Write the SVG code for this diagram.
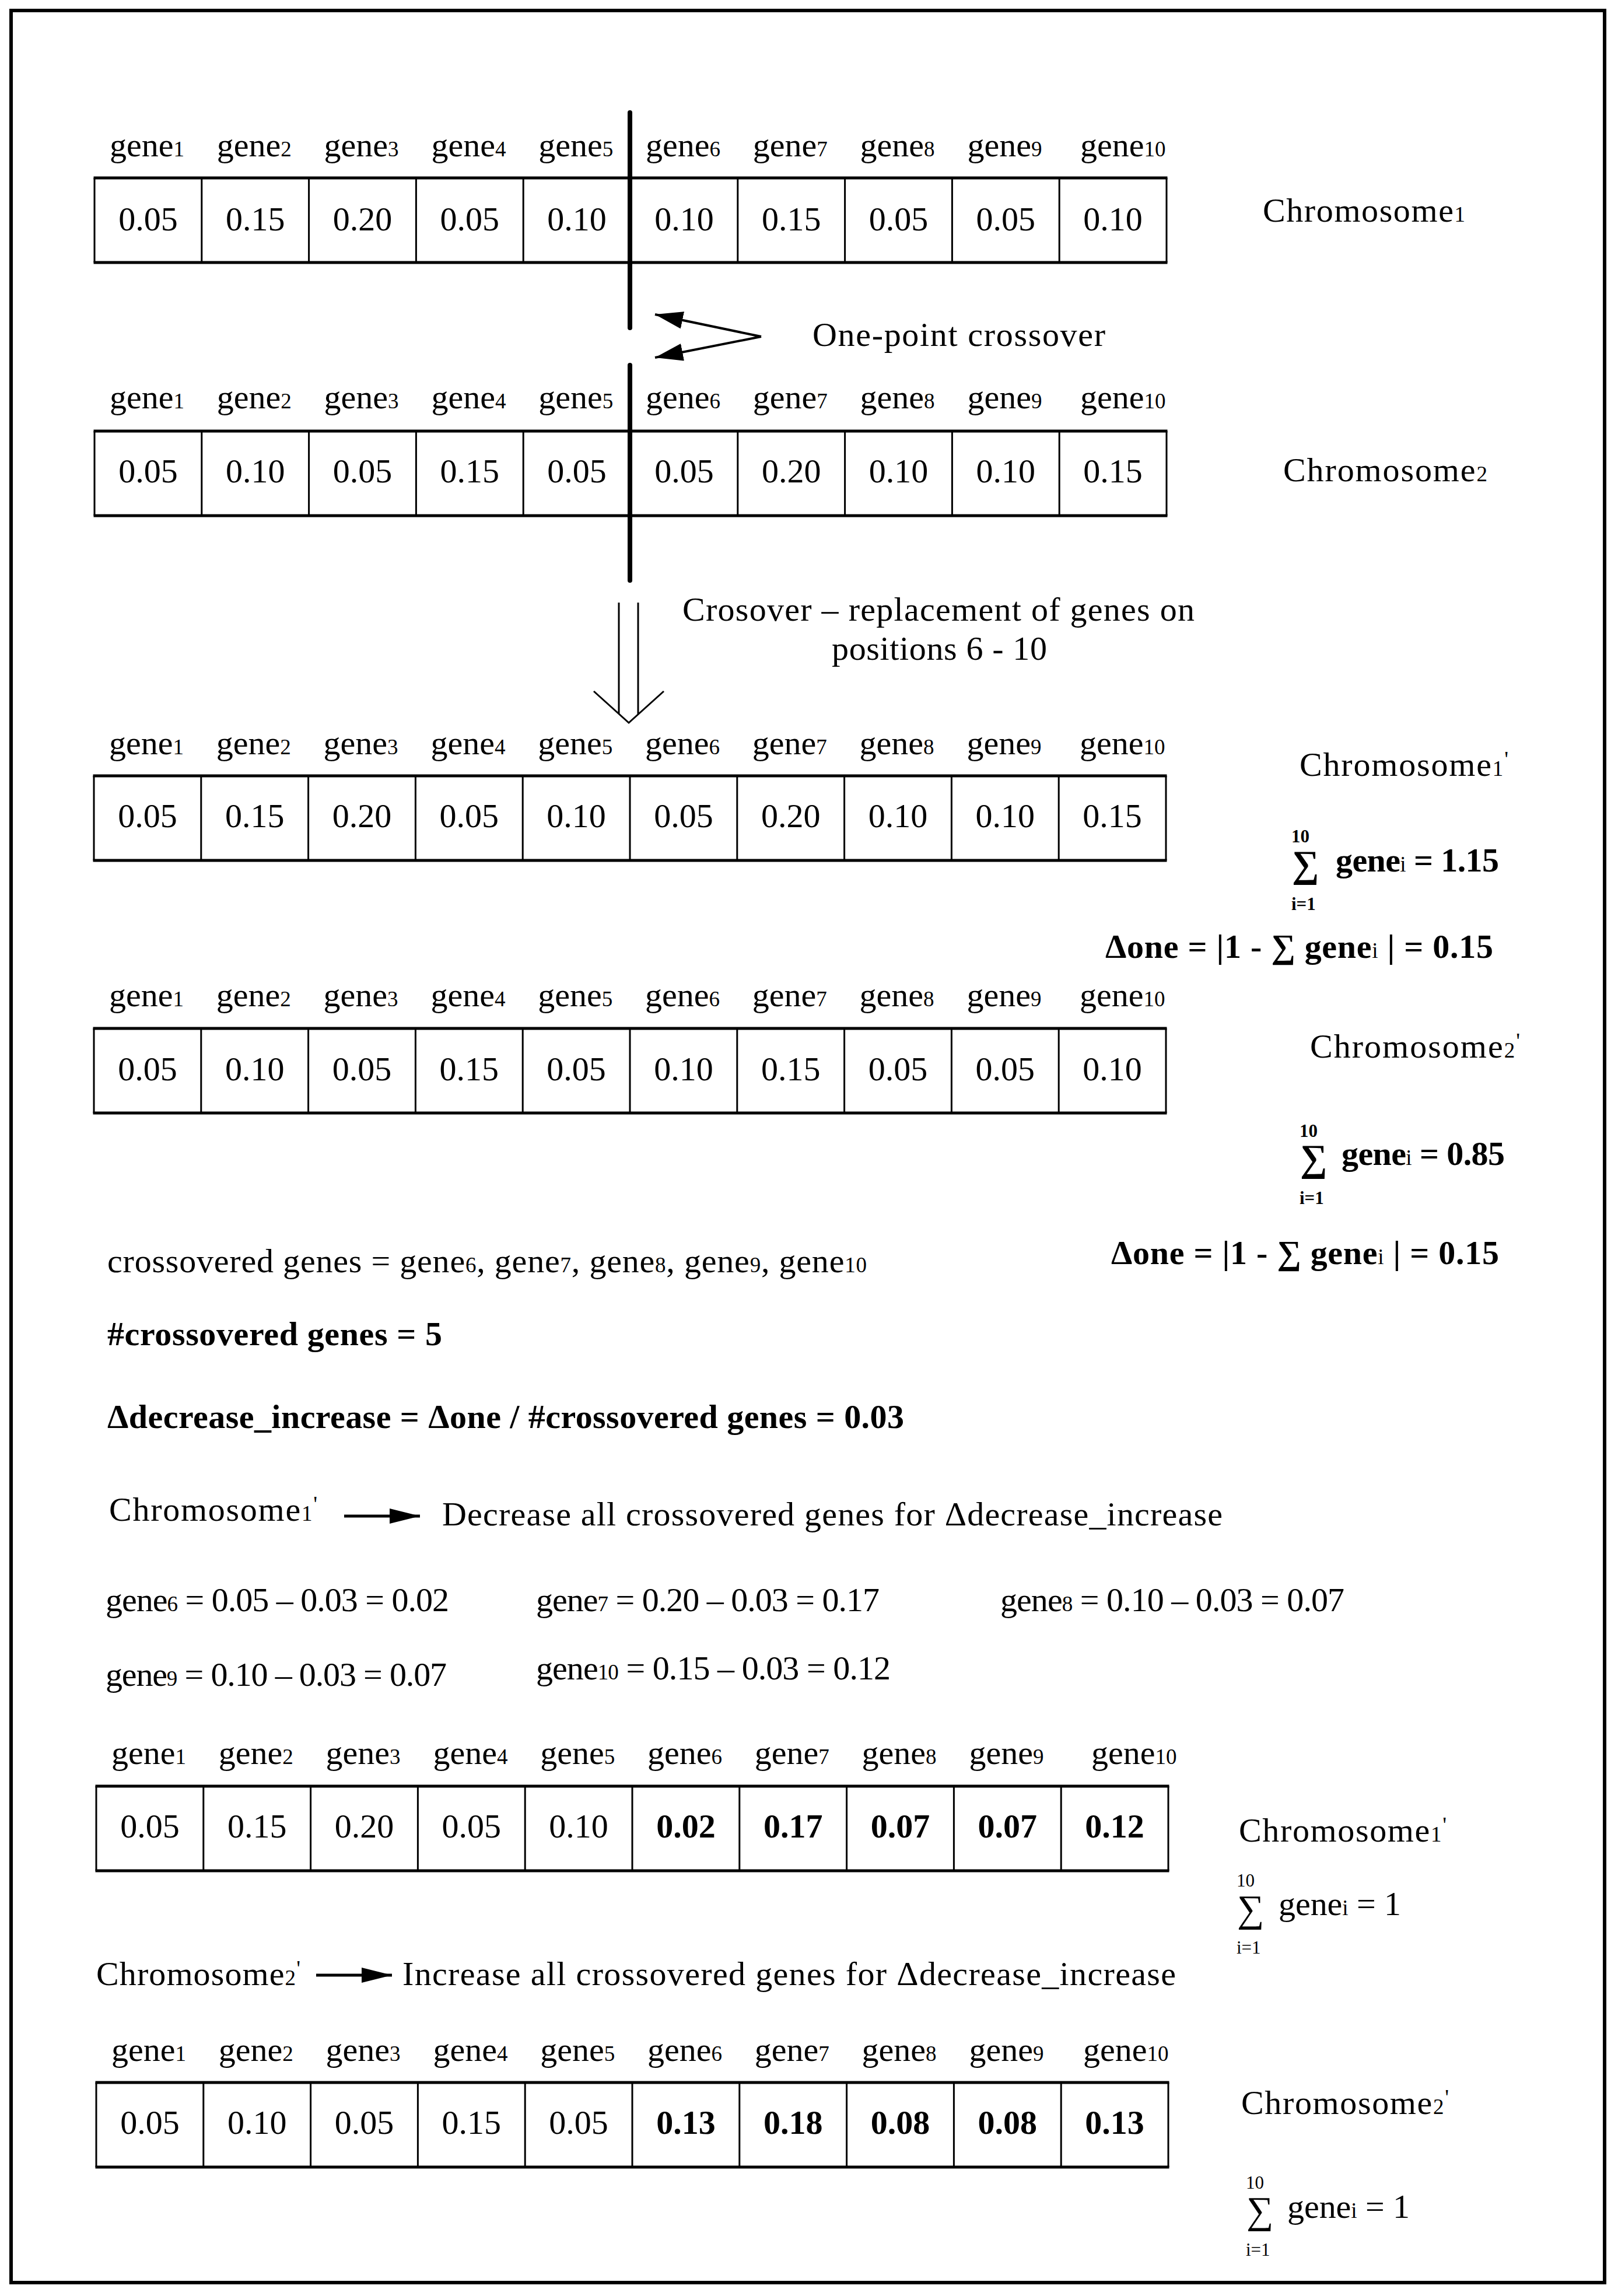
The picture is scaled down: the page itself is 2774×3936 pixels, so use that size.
<svg xmlns="http://www.w3.org/2000/svg" xmlns:xlink="http://www.w3.org/1999/xlink" width="2774" height="3936" viewBox="0 0 2774 3936">
<style>
text{font-family:"Liberation Serif","DejaVu Serif",serif;font-size:58px;fill:#000}
.b{font-weight:bold}
.s{font-size:37px;font-weight:normal}
.sm{font-size:31px}
.sig{font-size:65px}
.v{text-anchor:middle}
.p{font-size:38px}
.ln{stroke:#000;fill:none}
</style>
<defs>
<g id="tblframe">
<path class="ln" stroke-width="5" d="M-1.5,0H1839.5M-1.5,145H1839.5"/>
<path class="ln" stroke-width="3" d="M0,0V145M183.8,0V145M367.6,0V145M551.4,0V145M735.2,0V145M919,0V145M1102.8,0V145M1286.6,0V145M1470.4,0V145M1654.2,0V145M1838,0V145"/>
</g>
<marker id="ahX" markerUnits="userSpaceOnUse" markerWidth="50" markerHeight="32" refX="48" refY="15" orient="auto" viewBox="0 0 50 32">
<path d="M0,0L48,15L0,30z" fill="#000"/>
</marker>
<marker id="ahR" markerUnits="userSpaceOnUse" markerWidth="54" markerHeight="28" refX="52" refY="13" orient="auto" viewBox="0 0 54 28">
<path d="M0,0L52,13L0,26z" fill="#000"/>
</marker>
</defs>
<rect x="0" y="0" width="2774" height="3936" fill="#fff"/>
<rect x="19" y="18" width="2732" height="3895" fill="none" stroke="#000" stroke-width="6"/>

<g id="chromosome1" transform="translate(162,305)">
<use xlink:href="#tblframe"/>
<text x="26" y="-37">gene<tspan class="s">1</tspan></text>
<text x="209.8" y="-37">gene<tspan class="s">2</tspan></text>
<text x="393.6" y="-37">gene<tspan class="s">3</tspan></text>
<text x="577.4" y="-37">gene<tspan class="s">4</tspan></text>
<text x="761.2" y="-37">gene<tspan class="s">5</tspan></text>
<text x="945" y="-37">gene<tspan class="s">6</tspan></text>
<text x="1128.8" y="-37">gene<tspan class="s">7</tspan></text>
<text x="1312.6" y="-37">gene<tspan class="s">8</tspan></text>
<text x="1496.4" y="-37">gene<tspan class="s">9</tspan></text>
<text x="1690" y="-37">gene<tspan class="s">10</tspan></text>
<text class="v" x="91.9" y="90">0.05</text>
<text class="v" x="275.7" y="90">0.15</text>
<text class="v" x="459.5" y="90">0.20</text>
<text class="v" x="643.3" y="90">0.05</text>
<text class="v" x="827.1" y="90">0.10</text>
<text class="v" x="1010.9" y="90">0.10</text>
<text class="v" x="1194.7" y="90">0.15</text>
<text class="v" x="1378.5" y="90">0.05</text>
<text class="v" x="1562.3" y="90">0.05</text>
<text class="v" x="1746.1" y="90">0.10</text>
<text x="2003" y="75" textLength="347" lengthAdjust="spacing">Chromosome<tspan class="s">1</tspan></text>
</g>

<g id="chromosome2" transform="translate(162,739)">
<use xlink:href="#tblframe"/>
<text x="26" y="-39">gene<tspan class="s">1</tspan></text>
<text x="209.8" y="-39">gene<tspan class="s">2</tspan></text>
<text x="393.6" y="-39">gene<tspan class="s">3</tspan></text>
<text x="577.4" y="-39">gene<tspan class="s">4</tspan></text>
<text x="761.2" y="-39">gene<tspan class="s">5</tspan></text>
<text x="945" y="-39">gene<tspan class="s">6</tspan></text>
<text x="1128.8" y="-39">gene<tspan class="s">7</tspan></text>
<text x="1312.6" y="-39">gene<tspan class="s">8</tspan></text>
<text x="1496.4" y="-39">gene<tspan class="s">9</tspan></text>
<text x="1690" y="-39">gene<tspan class="s">10</tspan></text>
<text class="v" x="91.9" y="88">0.05</text>
<text class="v" x="275.7" y="88">0.10</text>
<text class="v" x="459.5" y="88">0.05</text>
<text class="v" x="643.3" y="88">0.15</text>
<text class="v" x="827.1" y="88">0.05</text>
<text class="v" x="1010.9" y="88">0.05</text>
<text class="v" x="1194.7" y="88">0.20</text>
<text class="v" x="1378.5" y="88">0.10</text>
<text class="v" x="1562.3" y="88">0.10</text>
<text class="v" x="1746.1" y="88">0.15</text>
<text x="2038" y="86" textLength="350" lengthAdjust="spacing">Chromosome<tspan class="s">2</tspan></text>
</g>

<g id="crossover-label">
<text x="1393" y="593" textLength="502" lengthAdjust="spacing">One-point crossover</text>
</g>
<g id="replacement-label">
<text x="1170" y="1064" textLength="878" lengthAdjust="spacing">Crosover – replacement of genes on</text>
<text x="1426" y="1131" textLength="369" lengthAdjust="spacing">positions 6 - 10</text>
</g>

<g id="chromosome1-prime" transform="translate(161,1330)">
<use xlink:href="#tblframe"/>
<text x="26" y="-37">gene<tspan class="s">1</tspan></text>
<text x="209.8" y="-37">gene<tspan class="s">2</tspan></text>
<text x="393.6" y="-37">gene<tspan class="s">3</tspan></text>
<text x="577.4" y="-37">gene<tspan class="s">4</tspan></text>
<text x="761.2" y="-37">gene<tspan class="s">5</tspan></text>
<text x="945" y="-37">gene<tspan class="s">6</tspan></text>
<text x="1128.8" y="-37">gene<tspan class="s">7</tspan></text>
<text x="1312.6" y="-37">gene<tspan class="s">8</tspan></text>
<text x="1496.4" y="-37">gene<tspan class="s">9</tspan></text>
<text x="1690" y="-37">gene<tspan class="s">10</tspan></text>
<text class="v" x="91.9" y="88">0.05</text>
<text class="v" x="275.7" y="88">0.15</text>
<text class="v" x="459.5" y="88">0.20</text>
<text class="v" x="643.3" y="88">0.05</text>
<text class="v" x="827.1" y="88">0.10</text>
<text class="v" x="1010.9" y="88">0.05</text>
<text class="v" x="1194.7" y="88">0.20</text>
<text class="v" x="1378.5" y="88">0.10</text>
<text class="v" x="1562.3" y="88">0.10</text>
<text class="v" x="1746.1" y="88">0.15</text>
</g>
<g id="chromosome1-prime-label">
<text x="2228" y="1330" textLength="358" lengthAdjust="spacing">Chromosome<tspan class="s">1</tspan><tspan class="p" dy="-16">'</tspan></text>
</g>
<g id="sum1">
<text class="sm b" x="2214" y="1444">10</text>
<text class="sig b" x="2215" y="1503">∑</text>
<text class="b" x="2290" y="1494" textLength="280" lengthAdjust="spacing">gene<tspan class="s">i</tspan> = 1.15</text>
<text class="sm b" x="2214" y="1560">i=1</text>
</g>
<g id="delta1">
<text class="b" x="1895" y="1642" textLength="665" lengthAdjust="spacing">Δone = |1 - ∑ gene<tspan class="s">i</tspan> | = 0.15</text>
</g>

<g id="chromosome2-prime" transform="translate(161,1763)">
<use xlink:href="#tblframe"/>
<text x="26" y="-38">gene<tspan class="s">1</tspan></text>
<text x="209.8" y="-38">gene<tspan class="s">2</tspan></text>
<text x="393.6" y="-38">gene<tspan class="s">3</tspan></text>
<text x="577.4" y="-38">gene<tspan class="s">4</tspan></text>
<text x="761.2" y="-38">gene<tspan class="s">5</tspan></text>
<text x="945" y="-38">gene<tspan class="s">6</tspan></text>
<text x="1128.8" y="-38">gene<tspan class="s">7</tspan></text>
<text x="1312.6" y="-38">gene<tspan class="s">8</tspan></text>
<text x="1496.4" y="-38">gene<tspan class="s">9</tspan></text>
<text x="1690" y="-38">gene<tspan class="s">10</tspan></text>
<text class="v" x="91.9" y="89">0.05</text>
<text class="v" x="275.7" y="89">0.10</text>
<text class="v" x="459.5" y="89">0.05</text>
<text class="v" x="643.3" y="89">0.15</text>
<text class="v" x="827.1" y="89">0.05</text>
<text class="v" x="1010.9" y="89">0.10</text>
<text class="v" x="1194.7" y="89">0.15</text>
<text class="v" x="1378.5" y="89">0.05</text>
<text class="v" x="1562.3" y="89">0.05</text>
<text class="v" x="1746.1" y="89">0.10</text>
</g>
<g id="chromosome2-prime-label">
<text x="2246" y="1813" textLength="360" lengthAdjust="spacing">Chromosome<tspan class="s">2</tspan><tspan class="p" dy="-16">'</tspan></text>
</g>
<g id="sum2">
<text class="sm b" x="2228" y="1949">10</text>
<text class="sig b" x="2229" y="2007">∑</text>
<text class="b" x="2300" y="1997" textLength="280" lengthAdjust="spacing">gene<tspan class="s">i</tspan> = 0.85</text>
<text class="sm b" x="2228" y="2064">i=1</text>
</g>
<g id="delta2">
<text class="b" x="1905" y="2167" textLength="665" lengthAdjust="spacing">Δone = |1 - ∑ gene<tspan class="s">i</tspan> | = 0.15</text>
</g>

<g id="calc">
<text x="184" y="2181" textLength="1302" lengthAdjust="spacing">crossovered genes = gene<tspan class="s">6</tspan>, gene<tspan class="s">7</tspan>, gene<tspan class="s">8</tspan>, gene<tspan class="s">9</tspan>, gene<tspan class="s">10</tspan></text>
<text class="b" x="184" y="2306" textLength="574" lengthAdjust="spacing">#crossovered genes = 5</text>
<text class="b" x="184" y="2448" textLength="1366" lengthAdjust="spacing">Δdecrease_increase = Δone / #crossovered genes = 0.03</text>
</g>
<g id="decrease-step">
<text x="187" y="2607" textLength="357" lengthAdjust="spacing">Chromosome<tspan class="s">1</tspan><tspan class="p" dy="-16">'</tspan></text>
<text x="758" y="2615" textLength="1338" lengthAdjust="spacing">Decrease all crossovered genes for Δdecrease_increase</text>
</g>
<g id="equations">
<text x="181" y="2762" textLength="589" lengthAdjust="spacing">gene<tspan class="s">6</tspan> = 0.05 – 0.03 = 0.02</text>
<text x="919" y="2762" textLength="589" lengthAdjust="spacing">gene<tspan class="s">7</tspan> = 0.20 – 0.03 = 0.17</text>
<text x="1715" y="2762" textLength="590" lengthAdjust="spacing">gene<tspan class="s">8</tspan> = 0.10 – 0.03 = 0.07</text>
<text x="181" y="2890" textLength="585" lengthAdjust="spacing">gene<tspan class="s">9</tspan> = 0.10 – 0.03 = 0.07</text>
<text x="919" y="2879" textLength="608" lengthAdjust="spacing">gene<tspan class="s">10</tspan> = 0.15 – 0.03 = 0.12</text>
</g>

<g id="chromosome1-final" transform="translate(165,3062)">
<use xlink:href="#tblframe"/>
<text x="26" y="-38">gene<tspan class="s">1</tspan></text>
<text x="209.8" y="-38">gene<tspan class="s">2</tspan></text>
<text x="393.6" y="-38">gene<tspan class="s">3</tspan></text>
<text x="577.4" y="-38">gene<tspan class="s">4</tspan></text>
<text x="761.2" y="-38">gene<tspan class="s">5</tspan></text>
<text x="945" y="-38">gene<tspan class="s">6</tspan></text>
<text x="1128.8" y="-38">gene<tspan class="s">7</tspan></text>
<text x="1312.6" y="-38">gene<tspan class="s">8</tspan></text>
<text x="1496.4" y="-38">gene<tspan class="s">9</tspan></text>
<text x="1706" y="-38">gene<tspan class="s">10</tspan></text>
<text class="v" x="91.9" y="88">0.05</text>
<text class="v" x="275.7" y="88">0.15</text>
<text class="v" x="459.5" y="88">0.20</text>
<text class="v" x="643.3" y="88">0.05</text>
<text class="v" x="827.1" y="88">0.10</text>
<text class="v b" x="1010.9" y="88">0.02</text>
<text class="v b" x="1194.7" y="88">0.17</text>
<text class="v b" x="1378.5" y="88">0.07</text>
<text class="v b" x="1562.3" y="88">0.07</text>
<text class="v b" x="1746.1" y="88">0.12</text>
</g>
<g id="chromosome1-final-label">
<text x="2124" y="3157" textLength="356" lengthAdjust="spacing">Chromosome<tspan class="s">1</tspan><tspan class="p" dy="-16">'</tspan></text>
</g>
<g id="sum3">
<text class="sm" x="2120" y="3234">10</text>
<text class="sig" x="2121" y="3294">∑</text>
<text x="2192" y="3283" textLength="210" lengthAdjust="spacing">gene<tspan class="s">i</tspan> = 1</text>
<text class="sm" x="2120" y="3349">i=1</text>
</g>

<g id="increase-step">
<text x="165" y="3403" textLength="350" lengthAdjust="spacing">Chromosome<tspan class="s">2</tspan><tspan class="p" dy="-16">'</tspan></text>
<text x="690" y="3403" textLength="1326" lengthAdjust="spacing">Increase all crossovered genes for Δdecrease_increase</text>
</g>

<g id="chromosome2-final" transform="translate(165,3570)">
<use xlink:href="#tblframe"/>
<text x="26" y="-37">gene<tspan class="s">1</tspan></text>
<text x="209.8" y="-37">gene<tspan class="s">2</tspan></text>
<text x="393.6" y="-37">gene<tspan class="s">3</tspan></text>
<text x="577.4" y="-37">gene<tspan class="s">4</tspan></text>
<text x="761.2" y="-37">gene<tspan class="s">5</tspan></text>
<text x="945" y="-37">gene<tspan class="s">6</tspan></text>
<text x="1128.8" y="-37">gene<tspan class="s">7</tspan></text>
<text x="1312.6" y="-37">gene<tspan class="s">8</tspan></text>
<text x="1496.4" y="-37">gene<tspan class="s">9</tspan></text>
<text x="1692" y="-37">gene<tspan class="s">10</tspan></text>
<text class="v" x="91.9" y="88">0.05</text>
<text class="v" x="275.7" y="88">0.10</text>
<text class="v" x="459.5" y="88">0.05</text>
<text class="v" x="643.3" y="88">0.15</text>
<text class="v" x="827.1" y="88">0.05</text>
<text class="v b" x="1010.9" y="88">0.13</text>
<text class="v b" x="1194.7" y="88">0.18</text>
<text class="v b" x="1378.5" y="88">0.08</text>
<text class="v b" x="1562.3" y="88">0.08</text>
<text class="v b" x="1746.1" y="88">0.13</text>
</g>
<g id="chromosome2-final-label">
<text x="2128" y="3624" textLength="356" lengthAdjust="spacing">Chromosome<tspan class="s">2</tspan><tspan class="p" dy="-16">'</tspan></text>
</g>
<g id="sum4">
<text class="sm" x="2136" y="3752">10</text>
<text class="sig" x="2137" y="3811">∑</text>
<text x="2207" y="3802" textLength="210" lengthAdjust="spacing">gene<tspan class="s">i</tspan> = 1</text>
<text class="sm" x="2136" y="3867">i=1</text>
</g>

<g id="connectors">
<path class="ln" stroke-width="8" stroke-linecap="round" d="M1080,193V562M1080,626V995"/>
<path class="ln" stroke-width="4" marker-end="url(#ahX)" d="M1305,577L1123,539"/>
<path class="ln" stroke-width="4" marker-end="url(#ahX)" d="M1305,577L1123,613"/>
<path class="ln" stroke-width="3" d="M1061,1033V1223M1094,1033V1224M1018,1185L1078,1239L1138,1185"/>
<path class="ln" stroke-width="5" marker-end="url(#ahR)" d="M590,2599H720"/>
<path class="ln" stroke-width="5" marker-end="url(#ahR)" d="M542,3386H672"/>
</g>
</svg>
